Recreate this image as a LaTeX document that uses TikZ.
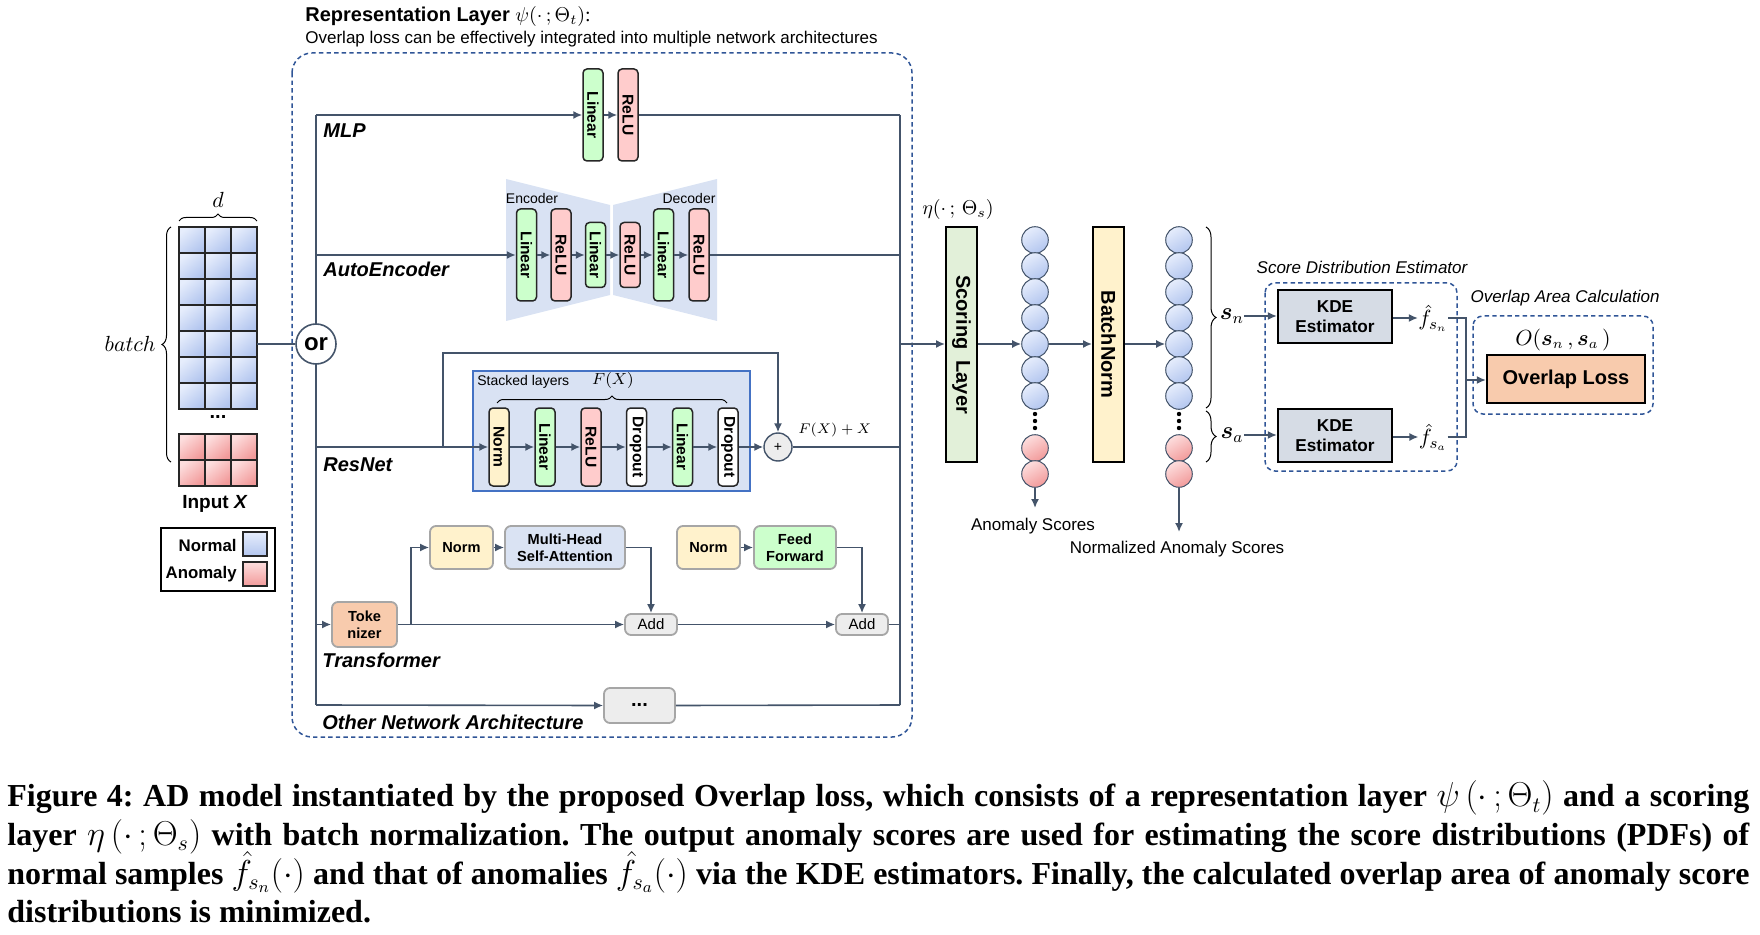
\documentclass[tikz,border=0pt]{standalone}
\usepackage{fontspec}
\setmainfont{Liberation Serif}
\setsansfont{Liberation Sans}
\usepackage{amsmath}
\usepackage{graphicx}
\usetikzlibrary{arrows.meta,positioning,decorations.pathreplacing}

% colours
\definecolor{lineclr}{HTML}{44546A}
\definecolor{dashclr}{HTML}{2F5597}
\definecolor{linclr}{HTML}{CCFFCC}
\definecolor{reluclr}{HTML}{FFCCCC}
\definecolor{normclr}{HTML}{FFF2CC}
\definecolor{attclr}{HTML}{DAE3F3}
\definecolor{tokclr}{HTML}{F8CBAD}
\definecolor{addclr}{HTML}{EDEDED}
\definecolor{scoreclr}{HTML}{E2F0D9}
\definecolor{kdeclr}{HTML}{D6DCE5}
\definecolor{bgblue}{HTML}{D9E2F3}
\definecolor{stackbd}{HTML}{4472C4}
\definecolor{cellblueA}{HTML}{E6EDFC}
\definecolor{cellblueB}{HTML}{B3C6EF}
\definecolor{cellredA}{HTML}{FDDEDE}
\definecolor{cellredB}{HTML}{F29A9A}

\newcommand{\vtxt}[1]{\rotatebox{-90}{#1}}
\newlength{\capw}\setlength{\capw}{871pt}

\tikzset{
  flow/.style={draw=lineclr, line width=0.8pt},
  arr/.style={flow, -{Latex[length=4.5pt,width=4pt]}},
  dashbox/.style={draw=dashclr, line width=0.75pt, dash pattern=on 2.2pt off 1.6pt, rounded corners=5pt},
  layer/.style={draw=black!85, line width=0.75pt, rounded corners=2pt, minimum width=10pt,
    inner sep=0pt, font=\sffamily\bfseries\fontsize{7.8}{9}\selectfont},
  tall/.style={layer, minimum height=46pt},
  short/.style={layer, minimum height=32.5pt},
  mid/.style={layer, minimum height=39pt},
  tbox/.style={draw=black!35, line width=0.9pt, rounded corners=3pt, inner sep=0pt,
    minimum height=21.5pt, align=center, font=\sffamily\bfseries\fontsize{7.3}{8.6}\selectfont},
  addbox/.style={tbox, fill=addclr, minimum width=26pt, minimum height=10.5pt,
    font=\sffamily\fontsize{7.5}{9}\selectfont},
  archlbl/.style={anchor=west, inner sep=0pt, font=\sffamily\bfseries\itshape\fontsize{10}{12}\selectfont},
  smalllbl/.style={inner sep=0pt, font=\sffamily\fontsize{7}{8}\selectfont},
  midlbl/.style={inner sep=0pt, font=\sffamily\fontsize{8.5}{10}\selectfont},
  bigbar/.style={draw=black, line width=1pt, minimum width=15.5pt, minimum height=117.5pt,
    inner sep=0pt, font=\sffamily\bfseries\fontsize{10}{12}\selectfont},
  kdebox/.style={draw=black, line width=1.1pt, fill=kdeclr, minimum width=57pt, minimum height=26.5pt,
    inner sep=0pt, align=center, font=\sffamily\bfseries\fontsize{8.6}{10}\selectfont},
  ball/.style={circle, draw=lineclr, line width=0.5pt, minimum size=13.3pt, inner sep=0pt},
  blueball/.style={ball, top color=cellblueA, bottom color=cellblueB, shading angle=30},
  redball/.style={ball, top color=cellredA, bottom color=cellredB, shading angle=30},
  cell/.style={draw=black!85, line width=0.8pt},
  brc/.style={decorate, decoration={brace, amplitude=#1}, line width=0.5pt},
  brc/.default=4pt
}

\begin{document}
\begin{tikzpicture}[x=0.5pt, y=-0.5pt]
  \useasboundingbox (0,0) rectangle (1760,935);

  % ---- representation layer frame
  \node[anchor=west, inner sep=0pt, font=\sffamily\bfseries\fontsize{10}{12}\selectfont] (title) at (305,17)
    {Representation Layer \normalfont$\psi(\cdot\,;\Theta_t)$:};
  \node[anchor=west, inner sep=0pt, font=\sffamily\fontsize{8.5}{10}\selectfont] (subtitle) at (305,39)
    {Overlap loss can be effectively integrated into multiple network architectures};
  \draw[dashbox, rounded corners=10pt] (292,53) rectangle (912,737);

  % ---- input batch
  \foreach \c in {0,1,2}{
    \foreach \r in {0,...,6}
      \draw[cell, top color=cellblueA, bottom color=cellblueB, shading angle=40]
        (179+26*\c, 227+26*\r) rectangle ++(26,26);
    \foreach \r in {0,1}
      \draw[cell, top color=cellredA, bottom color=cellredB, shading angle=40]
        (179+26*\c, 434+26*\r) rectangle ++(26,26);
  }
  \node[inner sep=0pt, font=\sffamily\bfseries\fontsize{10}{12}\selectfont] (mdots) at (218,417) {...};
  \draw[brc=3.5pt] (179,221) -- (257,221);
  \node[inner sep=0pt, font=\fontsize{11}{12}\selectfont] (dlbl) at (218,200) {$d$};
  \draw[brc=4.5pt] (171,462) -- (171,227);
  \node[anchor=east, inner sep=0pt, font=\fontsize{11}{12}\selectfont] (blbl) at (156,344) {$batch$};
  \node[inner sep=0pt, font=\sffamily\bfseries\fontsize{9.5}{11}\selectfont] (inlbl) at (215,504) {Input \textit{X}};

  % legend
  \node[draw, line width=0.8pt, minimum width=57pt, minimum height=31.5pt] (legend) at (218,559.5) {};
  \node[anchor=east, inner sep=0pt, font=\sffamily\bfseries\fontsize{8.4}{10}\selectfont] (lgn) at (237,545) {Normal};
  \node[anchor=east, inner sep=0pt, font=\sffamily\bfseries\fontsize{8.4}{10}\selectfont] (lga) at (237,574) {Anomaly};
  \node[cell, minimum size=12pt, inner sep=0pt, top color=cellblueA, bottom color=cellblueB] (sqn) at (255,544) {};
  \node[cell, minimum size=12pt, inner sep=0pt, top color=cellredA, bottom color=cellredB] (sqa) at (255,574) {};

  % ---- backbone
  \coordinate (lt) at (316,115);
  \coordinate (lb) at (316,705);
  \coordinate (rt) at (900,115);
  \coordinate (rb) at (900,705);
  \coordinate (matR) at (257,344);
  \draw[flow] (lt) -- (lb);
  \draw[flow] (rt) -- (rb);
  \node[circle, draw=lineclr, line width=0.8pt, fill=white, minimum size=20pt, inner sep=0pt,
    font=\sffamily\bfseries\fontsize{12}{13}\selectfont] (orn) at (316,344) {or};
  \draw[flow] (matR) -- (orn.west);

  % MLP
  \node[tall, fill=linclr] (mlp1) at (593,115) {\vtxt{Linear}};
  \node[tall, fill=reluclr] (mlp2) at (628,115) {\vtxt{ReLU}};
  \draw[arr] (lt) -- (mlp1.west);
  \draw[arr] (mlp1) -- (mlp2);
  \draw[flow] (mlp2.east) -- (rt);
  \node[archlbl] (lblmlp) at (323,131) {MLP};

  % AutoEncoder
  \fill[bgblue] (506,179) -- (610,205) -- (610,295) -- (506,321) -- cycle;
  \fill[bgblue] (613,205) -- (717,179) -- (717,321) -- (613,295) -- cycle;
  \node[smalllbl] (enc) at (532,198) {Encoder};
  \node[smalllbl] (dec) at (689,198) {Decoder};
  \node[tall, fill=linclr] (ae1) at (526.5,255) {\vtxt{Linear}};
  \node[tall, fill=reluclr] (ae2) at (561,255) {\vtxt{ReLU}};
  \node[short, fill=linclr] (ae3) at (595.5,255) {\vtxt{Linear}};
  \node[short, fill=reluclr] (ae4) at (630,255) {\vtxt{ReLU}};
  \node[tall, fill=linclr] (ae5) at (663.5,255) {\vtxt{Linear}};
  \node[tall, fill=reluclr] (ae6) at (699,255) {\vtxt{ReLU}};
  \draw[arr] (lt |- ae1) -- (ae1.west);
  \foreach \a/\b in {ae1/ae2, ae2/ae3, ae3/ae4, ae4/ae5, ae5/ae6}
    \draw[arr] (\a) -- (\b);
  \draw[flow] (ae6.east) -- (rt |- ae6);
  \node[archlbl] (lblae) at (323,269) {AutoEncoder};

  % ResNet
  \node[draw=stackbd, line width=0.8pt, fill=bgblue, minimum width=138.5pt, minimum height=60pt] (stack) at (611.5,431) {};
  \node[smalllbl, anchor=west] (stlbl) at (477,382) {Stacked layers};
  \node[inner sep=0pt, font=\fontsize{8}{9}\selectfont] (fxlbl) at (613,381) {$F(X)$};
  \draw[brc=3.5pt] (497,403) -- (727,403);
  \node[mid, fill=normclr] (rn1) at (499,447) {\vtxt{Norm}};
  \node[mid, fill=linclr] (rn2) at (545,447) {\vtxt{Linear}};
  \node[mid, fill=reluclr] (rn3) at (591,447) {\vtxt{ReLU}};
  \node[mid, fill=white] (rn4) at (636.5,447) {\vtxt{Dropout}};
  \node[mid, fill=linclr] (rn5) at (682.5,447) {\vtxt{Linear}};
  \node[mid, fill=white] (rn6) at (728,447) {\vtxt{Dropout}};
  \node[circle, draw=lineclr, line width=0.7pt, fill=addclr, minimum size=14pt, inner sep=0pt,
    font=\sffamily\fontsize{7}{8}\selectfont] (plus) at (778,447) {+};
  \node[anchor=west, inner sep=0pt, font=\fontsize{7.5}{9}\selectfont] (fxx) at (798,430) {$F(X)+X$};
  \draw[arr] (lt |- rn1) -- (rn1.west);
  \foreach \a/\b in {rn1/rn2, rn2/rn3, rn3/rn4, rn4/rn5, rn5/rn6, rn6/plus}
    \draw[arr] (\a) -- (\b);
  \coordinate (skipL) at (443,447);
  \coordinate (skipT) at (443,353);
  \draw[arr] (skipL) -- (skipT) -| (plus.north);
  \draw[flow] (plus.east) -- (rt |- plus);
  \node[archlbl] (lblrn) at (323,465) {ResNet};

  % Transformer
  \node[tbox, fill=tokclr, minimum width=32.5pt, minimum height=22.5pt] (tok) at (364.5,624.5) {Toke\\nizer};
  \node[tbox, fill=normclr, minimum width=31.5pt] (norm1) at (461.5,547.5) {Norm};
  \node[tbox, fill=attclr, minimum width=60pt] (mha) at (565,547.5) {Multi-Head\\Self-Attention};
  \node[addbox] (add1) at (651,624.5) {Add};
  \node[tbox, fill=normclr, minimum width=31.5pt] (norm2) at (708.5,547.5) {Norm};
  \node[tbox, fill=linclr, minimum width=41pt] (ff) at (795,547.5) {Feed\\Forward};
  \node[addbox] (add2) at (862,624.5) {Add};
  \coordinate (br) at (411,624.5);
  \draw[arr] (lt |- tok) -- (tok.west);
  \draw[arr] (tok.east) -- (add1.west);
  \draw[arr] (br) |- (norm1.west);
  \draw[arr] (norm1) -- (mha);
  \draw[arr] (mha.east) -| (add1.north);
  \draw[arr] (add1) -- (add2);
  \draw[arr] (norm2) -- (ff);
  \draw[arr] (ff.east) -| (add2.north);
  \draw[flow] (add2.east) -- (rt |- add2);
  \node[archlbl] (lbltf) at (322,660) {Transformer};

  % other architectures
  \node[tbox, fill=addclr, minimum width=35.5pt, minimum height=17.5pt,
    font=\sffamily\bfseries\fontsize{10}{10}\selectfont] (etc) at (639.5,705.5) {...};
  \draw[arr] (lb) -- (etc.west);
  \draw[flow] (etc.east) -- (rb);
  \node[archlbl] (lbloth) at (322,722) {Other Network Architecture};

  % ---- scoring layer and batch norm
  \node[inner sep=0pt, font=\fontsize{10}{12}\selectfont] (etalbl) at (958,210) {$\eta(\cdot\,;\,\Theta_s)$};
  \node[bigbar, fill=scoreclr] (score) at (961.5,344.5) {\vtxt{Scoring\ \ Layer}};
  \node[bigbar, fill=normclr] (bnorm) at (1108.5,344.5) {\vtxt{BatchNorm}};
  \foreach \k in {0,...,6}{
    \node[blueball] (a\k) at (1035,240+26*\k) {};
    \node[blueball] (b\k) at (1179,240+26*\k) {};
  }
  \foreach \k in {7,8}{
    \node[redball] (a\k) at (1035,448+26*\k-182) {};
    \node[redball] (b\k) at (1179,448+26*\k-182) {};
  }
  \foreach \yy in {414,421,428}{
    \fill (1035,\yy) circle (1.1pt);
    \fill (1179,\yy) circle (1.1pt);
  }
  \coordinate (rmid) at (900,344);
  \draw[arr] (rmid) -- (score.west |- rmid);
  \draw[arr] (score.east |- a4) -- (a4.west);
  \draw[arr] (a4.east) -- (bnorm.west |- a4);
  \draw[arr] (bnorm.east |- b4) -- (b4.west);
  \coordinate (aTip) at (1035,508);
  \coordinate (bTip) at (1179,532);
  \draw[arr] (a8.south) -- (aTip);
  \draw[arr] (b8.south) -- (bTip);
  \node[midlbl] (ascore) at (1033,526) {Anomaly Scores};
  \node[midlbl] (nscore) at (1177,549) {Normalized Anomaly Scores};

  % ---- split into normal / anomaly scores
  \draw[brc=5pt] (1206,227) -- (1206,408);
  \draw[brc=5pt] (1206,411) -- (1206,462);
  \node[inner sep=0pt, font=\fontsize{12}{13}\selectfont] (sn) at (1232,316) {$\boldsymbol{s}_n$};
  \node[inner sep=0pt, font=\fontsize{12}{13}\selectfont] (sa) at (1232,435) {$\boldsymbol{s}_a$};

  % score distribution estimator
  \draw[dashbox] (1265,283) rectangle (1457,471);
  \node[midlbl, font=\sffamily\itshape\fontsize{8.5}{10}\selectfont] (sdelbl) at (1362,267) {Score Distribution Estimator};
  \node[kdebox] (kde1) at (1335,316.5) {KDE\\Estimator};
  \node[kdebox] (kde2) at (1335,435.5) {KDE\\Estimator};
  \node[inner sep=0pt, font=\fontsize{11}{12}\selectfont] (fn) at (1433,318) {$\hat{f}_{s_n}$};
  \node[inner sep=0pt, font=\fontsize{11}{12}\selectfont] (fa) at (1433,437) {$\hat{f}_{s_a}$};
  \draw[arr] (sn.east) -- (kde1.west |- sn);
  \draw[arr] (sa.east) -- (kde2.west |- sa);
  \draw[arr] (kde1.east |- fn) -- (fn.west);
  \draw[arr] (kde2.east |- fa) -- (fa.west);

  % overlap area calculation
  \draw[dashbox] (1473,316) rectangle (1653,414);
  \node[midlbl, font=\sffamily\itshape\fontsize{8.5}{10}\selectfont] (olalbl) at (1565,298) {Overlap Area Calculation};
  \node[inner sep=0pt, font=\fontsize{10.5}{12}\selectfont] (olbl) at (1563,340) {$O(\boldsymbol{s}_n\,,\boldsymbol{s}_a\,)$};
  \node[draw=black, line width=1.1pt, fill=tokclr, minimum width=79pt, minimum height=24pt, inner sep=0pt,
    font=\sffamily\bfseries\fontsize{10}{12}\selectfont] (oloss) at (1566,379) {Overlap Loss};
  \coordinate (merge) at (1466,380);
  \draw[flow] (fn.east) -| (merge);
  \draw[flow] (fa.east) -| (merge);
  \draw[arr] (merge) -- (oloss.west |- merge);

  % ---- caption
  \node[anchor=north west, inner sep=0pt, align=left, font=\frenchspacing\bfseries\fontsize{16}{19.3}\selectfont] (caption) at (7,784)
    {\makebox[\capw][s]{Figure 4: AD model instantiated by the proposed Overlap loss, which consists of a representation layer \mdseries\smash{$\psi\,(\cdot\,;\Theta_t)$} \bfseries and a scoring}\\
     \makebox[\capw][s]{layer \mdseries\smash{$\eta\,(\cdot\,;\Theta_s)$} \bfseries with batch normalization. The output anomaly scores are used for estimating the score distributions (PDFs) of}\\
     \makebox[\capw][s]{normal samples \mdseries\smash{$\hat{f}_{s_n}(\cdot)$} \bfseries and that of anomalies \mdseries\smash{$\hat{f}_{s_a}(\cdot)$} \bfseries via the KDE estimators. Finally, the calculated overlap area of anomaly score}\\
     distributions is minimized.};
\end{tikzpicture}
\end{document}
